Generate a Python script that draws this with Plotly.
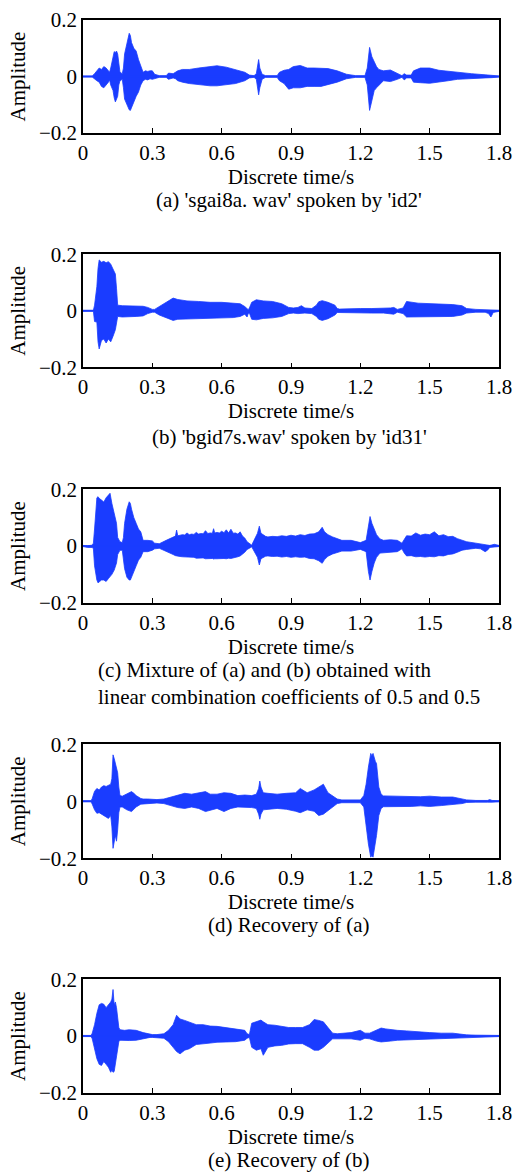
import plotly.graph_objects as go

# ---------------- data: waveform envelopes ----------------
# panel (a) 'sgai8a.wav'
t_a = [0.00, 0.04, 0.05, 0.06, 0.07, 0.08, 0.09, 0.10, 0.11, 0.115, 0.12, 0.13, 0.135, 0.14, 0.145,
       0.15, 0.155, 0.16, 0.17, 0.175, 0.18, 0.19, 0.195, 0.20, 0.205, 0.21, 0.22, 0.23, 0.24, 0.25,
       0.26, 0.27, 0.28, 0.29, 0.30, 0.31, 0.33, 0.36, 0.37, 0.39, 0.40, 0.41, 0.43, 0.46, 0.50,
       0.55, 0.58, 0.62, 0.66, 0.70, 0.72, 0.74, 0.75, 0.76, 0.765, 0.775, 0.79, 0.84, 0.85, 0.87,
       0.89, 0.91, 0.94, 0.97, 1.00, 1.03, 1.06, 1.10, 1.14, 1.18, 1.22, 1.23, 1.24, 1.25, 1.26,
       1.27, 1.28, 1.30, 1.33, 1.36, 1.38, 1.39, 1.40, 1.42, 1.43, 1.46, 1.50, 1.54, 1.58, 1.62,
       1.68, 1.74, 1.77, 1.78, 1.80]
up_a = [0.002, 0.002, 0.010, 0.020, 0.030, 0.025, 0.035, 0.030, 0.020, 0.015, 0.030, 0.070, 0.088, 0.085, 0.090,
        0.080, 0.040, 0.015, 0.010, 0.030, 0.080, 0.120, 0.140, 0.153, 0.145, 0.120, 0.100, 0.090, 0.060, 0.040,
        0.015, 0.020, 0.018, 0.020, 0.020, 0.008, 0.003, 0.003, 0.012, 0.010, 0.015, 0.020, 0.025, 0.025, 0.030,
        0.035, 0.038, 0.033, 0.025, 0.015, 0.005, 0.003, 0.010, 0.060, 0.030, 0.008, 0.003, 0.003, 0.015, 0.022,
        0.025, 0.035, 0.039, 0.030, 0.030, 0.030, 0.028, 0.020, 0.008, 0.003, 0.003, 0.030, 0.103, 0.070, 0.050,
        0.035, 0.025, 0.020, 0.023, 0.010, 0.003, 0.010, 0.005, 0.005, 0.020, 0.030, 0.030, 0.022, 0.018, 0.015,
        0.010, 0.006, 0.005, 0.002, 0.002]
lo_a = [-0.002, -0.002, -0.010, -0.015, -0.020, -0.035, -0.040, -0.030, -0.020, -0.012, -0.030, -0.050, -0.075, -0.090, -0.085,
        -0.070, -0.030, -0.015, -0.010, -0.040, -0.080, -0.100, -0.110, -0.118, -0.120, -0.110, -0.090, -0.070, -0.055, -0.030,
        -0.015, -0.010, -0.012, -0.008, -0.010, -0.006, -0.003, -0.003, -0.010, -0.005, -0.008, -0.015, -0.020, -0.025, -0.030,
        -0.033, -0.033, -0.030, -0.025, -0.015, -0.005, -0.003, -0.010, -0.065, -0.040, -0.010, -0.003, -0.003, -0.015, -0.025,
        -0.045, -0.040, -0.040, -0.035, -0.035, -0.035, -0.030, -0.020, -0.008, -0.003, -0.003, -0.030, -0.120, -0.080, -0.050,
        -0.040, -0.030, -0.015, -0.018, -0.010, -0.003, -0.012, -0.005, -0.005, -0.020, -0.022, -0.024, -0.020, -0.015, -0.010,
        -0.008, -0.005, -0.004, -0.002, -0.002]

# panel (b) 'bgid7s.wav'
t_b = [0.00, 0.045, 0.05, 0.06, 0.065, 0.07, 0.08, 0.09, 0.10, 0.11, 0.12, 0.13, 0.14, 0.145, 0.15,
       0.17, 0.20, 0.23, 0.26, 0.28, 0.30, 0.31, 0.33, 0.36, 0.39, 0.41, 0.45, 0.50, 0.55, 0.60,
       0.65, 0.68, 0.70, 0.71, 0.715, 0.72, 0.73, 0.75, 0.78, 0.82, 0.86, 0.89, 0.91, 0.93, 0.945,
       0.96, 0.99, 1.01, 1.02, 1.035, 1.06, 1.09, 1.10, 1.11, 1.15, 1.20, 1.25, 1.30, 1.33, 1.345,
       1.36, 1.385, 1.40, 1.45, 1.50, 1.55, 1.60, 1.64, 1.66, 1.70, 1.74, 1.755, 1.765, 1.775, 1.79, 1.80]
up_b = [0.002, 0.002, 0.020, 0.086, 0.150, 0.180, 0.172, 0.175, 0.170, 0.174, 0.165, 0.150, 0.130, 0.080, 0.020,
        0.018, 0.018, 0.016, 0.016, 0.012, 0.005, 0.005, 0.015, 0.030, 0.045, 0.040, 0.035, 0.033, 0.030, 0.030,
        0.028, 0.025, 0.015, 0.008, 0.004, 0.010, 0.030, 0.039, 0.035, 0.033, 0.025, 0.012, 0.010, 0.012, 0.018,
        0.010, 0.008, 0.020, 0.032, 0.036, 0.030, 0.020, 0.008, 0.006, 0.008, 0.008, 0.008, 0.008, 0.010, 0.012,
        0.005, 0.010, 0.033, 0.027, 0.025, 0.025, 0.022, 0.018, 0.008, 0.005, 0.004, 0.003, 0.002, 0.003, 0.004, 0.002]
lo_b = [-0.002, -0.002, -0.038, -0.040, -0.110, -0.135, -0.105, -0.100, -0.114, -0.100, -0.110, -0.090, -0.067, -0.040, -0.020,
        -0.022, -0.022, -0.020, -0.018, -0.010, -0.005, -0.005, -0.015, -0.025, -0.034, -0.030, -0.027, -0.026, -0.026, -0.025,
        -0.024, -0.020, -0.012, -0.022, -0.010, -0.008, -0.030, -0.032, -0.027, -0.025, -0.020, -0.010, -0.008, -0.010, -0.010,
        -0.008, -0.010, -0.020, -0.030, -0.034, -0.028, -0.015, -0.006, -0.006, -0.008, -0.008, -0.008, -0.008, -0.010, -0.012,
        -0.005, -0.010, -0.022, -0.022, -0.022, -0.020, -0.020, -0.015, -0.008, -0.005, -0.005, -0.010, -0.022, -0.006, -0.003, -0.002]

# panel (c) mixture
t_c = [0.00, 0.02, 0.04, 0.045, 0.05, 0.06, 0.065, 0.07, 0.08, 0.09, 0.10, 0.11, 0.117, 0.125, 0.135,
       0.145, 0.15, 0.16, 0.17, 0.175, 0.18, 0.19, 0.20, 0.205, 0.21, 0.22, 0.23, 0.24, 0.25, 0.26,
       0.28, 0.30, 0.31, 0.33, 0.36,
       0.39, 0.40, 0.405, 0.41, 0.42, 0.43, 0.44, 0.45, 0.46, 0.47, 0.48, 0.49, 0.50, 0.51, 0.52,
       0.53, 0.54, 0.55, 0.56, 0.565, 0.57, 0.58, 0.59, 0.60, 0.61, 0.62, 0.63, 0.64, 0.65, 0.66,
       0.67, 0.68, 0.69, 0.70, 0.71, 0.72,
       0.73, 0.74, 0.755, 0.763, 0.77,
       0.79, 0.80, 0.82, 0.84, 0.86, 0.88, 0.90, 0.92, 0.94, 0.96, 0.98, 1.00, 1.02, 1.035, 1.045,
       1.06, 1.08, 1.10, 1.12,
       1.16, 1.20, 1.225, 1.235, 1.242, 1.25, 1.26, 1.27, 1.285, 1.30, 1.33, 1.36, 1.38,
       1.39, 1.40, 1.42, 1.44, 1.46, 1.48, 1.50, 1.52, 1.54, 1.56, 1.58, 1.60, 1.62, 1.64, 1.66,
       1.70, 1.72, 1.74, 1.75, 1.76, 1.78, 1.80]
up_c = [0.002, 0.001, 0.003, 0.010, 0.060, 0.170, 0.174, 0.168, 0.162, 0.155, 0.170, 0.178, 0.186, 0.150, 0.120,
        0.080, 0.030, 0.015, 0.012, 0.030, 0.080, 0.130, 0.156, 0.150, 0.130, 0.100, 0.080, 0.060, 0.050, 0.020,
        0.020, 0.018, 0.010, 0.008, 0.020,
        0.030, 0.035, 0.056, 0.036, 0.038, 0.040, 0.039, 0.046, 0.040, 0.042, 0.041, 0.048, 0.042, 0.044, 0.043,
        0.054, 0.044, 0.046, 0.045, 0.061, 0.046, 0.048, 0.046, 0.052, 0.047, 0.057, 0.046, 0.059, 0.045, 0.046,
        0.042, 0.050, 0.035, 0.028, 0.015, 0.008,
        0.003, 0.020, 0.045, 0.070, 0.045,
        0.034, 0.032, 0.034, 0.033, 0.036, 0.034, 0.038, 0.035, 0.040, 0.037, 0.042, 0.043, 0.050, 0.066, 0.050,
        0.040, 0.032, 0.026, 0.020,
        0.020, 0.012, 0.020, 0.080, 0.104, 0.080, 0.060, 0.040, 0.025, 0.020, 0.022, 0.020, 0.010,
        0.025, 0.036, 0.035, 0.046, 0.038, 0.042, 0.040, 0.050, 0.036, 0.040, 0.033, 0.034, 0.026, 0.020, 0.015,
        0.010, 0.008, 0.006, 0.004, 0.002, 0.006, 0.002]
lo_c = [-0.002, -0.005, -0.005, -0.010, -0.070, -0.120, -0.130, -0.125, -0.120, -0.120, -0.125, -0.115, -0.110, -0.100, -0.085,
        -0.060, -0.030, -0.015, -0.015, -0.040, -0.080, -0.110, -0.120, -0.120, -0.110, -0.090, -0.070, -0.050, -0.040, -0.020,
        -0.020, -0.015, -0.010, -0.008, -0.020,
        -0.030, -0.034, -0.036, -0.036, -0.037, -0.038, -0.038, -0.040, -0.039, -0.040, -0.040, -0.043, -0.041, -0.042, -0.042,
        -0.045, -0.043, -0.044, -0.044, -0.046, -0.045, -0.045, -0.044, -0.045, -0.044, -0.045, -0.043, -0.044, -0.042, -0.040,
        -0.038, -0.035, -0.030, -0.022, -0.012, -0.008,
        -0.003, -0.020, -0.040, -0.067, -0.045,
        -0.036, -0.035, -0.037, -0.036, -0.039, -0.037, -0.040, -0.038, -0.040, -0.039, -0.044, -0.045, -0.052, -0.061, -0.048,
        -0.036, -0.028, -0.022, -0.018,
        -0.018, -0.012, -0.020, -0.090, -0.120, -0.090, -0.060, -0.040, -0.025, -0.022, -0.022, -0.020, -0.010,
        -0.025, -0.035, -0.034, -0.038, -0.037, -0.039, -0.037, -0.038, -0.034, -0.035, -0.030, -0.028, -0.022, -0.015, -0.012,
        -0.008, -0.010, -0.020, -0.015, -0.005, -0.004, -0.002]

# panel (d) recovery of (a)
t_d = [0.00, 0.035, 0.04, 0.05, 0.06, 0.07, 0.08, 0.09, 0.10, 0.11, 0.12, 0.125, 0.13, 0.135, 0.14,
       0.145, 0.15, 0.155, 0.16, 0.17, 0.19, 0.21, 0.22, 0.23, 0.25, 0.26, 0.28, 0.32, 0.35, 0.38,
       0.41, 0.44, 0.47, 0.50, 0.53, 0.55, 0.58, 0.61, 0.64, 0.67, 0.70, 0.73, 0.75, 0.76, 0.765,
       0.77, 0.78, 0.80, 0.84, 0.88, 0.92, 0.94, 0.97, 1.00, 1.02, 1.04, 1.06, 1.08, 1.10, 1.12,
       1.16, 1.20, 1.215, 1.225, 1.235, 1.245, 1.25, 1.255, 1.265, 1.27, 1.28, 1.29, 1.30, 1.34, 1.38,
       1.42, 1.46, 1.50, 1.55, 1.60, 1.64, 1.66, 1.70, 1.75, 1.76, 1.77, 1.80]
up_d = [0.002, 0.002, 0.010, 0.035, 0.045, 0.040, 0.050, 0.055, 0.052, 0.057, 0.060, 0.080, 0.163, 0.150, 0.130,
        0.120, 0.100, 0.050, 0.020, 0.018, 0.025, 0.034, 0.028, 0.020, 0.010, 0.008, 0.008, 0.006, 0.008, 0.015,
        0.022, 0.028, 0.025, 0.030, 0.034, 0.025, 0.025, 0.030, 0.028, 0.020, 0.022, 0.020, 0.025, 0.045, 0.071,
        0.050, 0.030, 0.028, 0.025, 0.028, 0.030, 0.045, 0.030, 0.040, 0.050, 0.060, 0.030, 0.020, 0.008, 0.005,
        0.005, 0.005, 0.020, 0.060, 0.120, 0.168, 0.160, 0.168, 0.140, 0.133, 0.050, 0.025, 0.019, 0.018, 0.019,
        0.018, 0.016, 0.018, 0.015, 0.015, 0.010, 0.005, 0.003, 0.003, 0.006, 0.003, 0.002]
lo_d = [-0.002, -0.002, -0.010, -0.030, -0.042, -0.040, -0.045, -0.050, -0.055, -0.060, -0.050, -0.090, -0.165, -0.150, -0.120,
        -0.140, -0.100, -0.040, -0.020, -0.020, -0.030, -0.036, -0.030, -0.020, -0.010, -0.008, -0.008, -0.006, -0.008, -0.015,
        -0.022, -0.025, -0.020, -0.025, -0.036, -0.030, -0.025, -0.036, -0.025, -0.020, -0.022, -0.022, -0.025, -0.045, -0.063,
        -0.045, -0.030, -0.028, -0.025, -0.028, -0.035, -0.040, -0.030, -0.035, -0.050, -0.045, -0.030, -0.020, -0.008, -0.005,
        -0.005, -0.005, -0.020, -0.080, -0.150, -0.196, -0.190, -0.196, -0.150, -0.120, -0.050, -0.025, -0.019, -0.018, -0.019,
        -0.018, -0.016, -0.018, -0.015, -0.012, -0.008, -0.004, -0.003, -0.003, -0.004, -0.003, -0.002]

# panel (e) recovery of (b)
t_e = [0.00, 0.035, 0.04, 0.05, 0.06, 0.07, 0.08, 0.09, 0.10, 0.11, 0.12, 0.125, 0.13, 0.135, 0.14,
       0.145, 0.15, 0.155, 0.16, 0.18, 0.20, 0.23, 0.26, 0.29, 0.30, 0.32, 0.35, 0.37, 0.39, 0.405,
       0.42, 0.44, 0.46, 0.49, 0.52, 0.55, 0.58, 0.62, 0.66, 0.70, 0.71, 0.72, 0.73, 0.75, 0.77,
       0.78, 0.80, 0.83, 0.86, 0.89, 0.92, 0.95, 0.98, 1.00, 1.02, 1.04, 1.06, 1.08, 1.10, 1.12,
       1.16, 1.20, 1.22, 1.24, 1.27, 1.29, 1.31, 1.33, 1.36, 1.40, 1.44, 1.46, 1.50, 1.55, 1.60,
       1.64, 1.66, 1.70, 1.76, 1.77, 1.80]
up_e = [0.002, 0.002, 0.010, 0.040, 0.080, 0.110, 0.115, 0.112, 0.100, 0.110, 0.120, 0.130, 0.164, 0.110, 0.120,
        0.100, 0.070, 0.030, 0.022, 0.020, 0.022, 0.020, 0.012, 0.005, 0.005, 0.005, 0.008, 0.020, 0.040, 0.073,
        0.060, 0.055, 0.050, 0.040, 0.040, 0.035, 0.034, 0.030, 0.025, 0.020, 0.008, 0.005, 0.045, 0.050, 0.056,
        0.050, 0.040, 0.038, 0.035, 0.030, 0.030, 0.030, 0.040, 0.058, 0.055, 0.050, 0.030, 0.010, 0.008, 0.010,
        0.012, 0.020, 0.010, 0.010, 0.020, 0.028, 0.025, 0.022, 0.020, 0.018, 0.015, 0.015, 0.012, 0.010, 0.010,
        0.006, 0.004, 0.003, 0.002, 0.004, 0.002]
lo_e = [-0.002, -0.002, -0.010, -0.040, -0.080, -0.100, -0.104, -0.090, -0.100, -0.110, -0.128, -0.120, -0.128, -0.125, -0.110,
        -0.080, -0.050, -0.020, -0.015, -0.015, -0.016, -0.015, -0.010, -0.005, -0.005, -0.005, -0.008, -0.020, -0.040, -0.055,
        -0.063, -0.050, -0.045, -0.030, -0.028, -0.025, -0.022, -0.020, -0.020, -0.015, -0.008, -0.005, -0.040, -0.050, -0.045,
        -0.068, -0.040, -0.035, -0.033, -0.028, -0.027, -0.027, -0.040, -0.050, -0.050, -0.040, -0.025, -0.010, -0.008, -0.010,
        -0.010, -0.015, -0.008, -0.010, -0.018, -0.021, -0.020, -0.018, -0.015, -0.015, -0.012, -0.012, -0.010, -0.010, -0.008,
        -0.005, -0.004, -0.003, -0.002, -0.003, -0.002]

x_ticks = [0, 0.3, 0.6, 0.9, 1.2, 1.5, 1.8]
x_ticktext = ["0", "0.3", "0.6", "0.9", "1.2", "1.5", "1.8"]
y_ticks = [-0.2, 0, 0.2]
y_ticktext = ["\u22120.2", "0", "0.2"]
x_title = "Discrete time/s"
y_title = "Amplitude"
captions = [
    "(a) 'sgai8a. wav' spoken by 'id2'",
    "(b) 'bgid7s.wav' spoken by 'id31'",
    "(c) Mixture of (a) and (b) obtained with<br>linear combination coefficients of 0.5 and 0.5",
    "(d) Recovery of (a)",
    "(e) Recovery of (b)",
]

# ---------------- layout geometry (pixels) ----------------
W, H = 514, 1172
X0, X1 = 83, 499
boxes = [(20, 133), (254.3, 367.3), (489.3, 602.7), (744.3, 858.3), (979.3, 1092.7)]
cap_y = [200, 437, 683.5, 925, 1160]

BLUE = "#1a3cff"
FONT = "Liberation Serif"

fig = go.Figure()
series = [(t_a, up_a, lo_a), (t_b, up_b, lo_b), (t_c, up_c, lo_c), (t_d, up_d, lo_d), (t_e, up_e, lo_e)]

layout = dict(
    width=W, height=H, margin=dict(l=0, r=0, t=0, b=0, autoexpand=False),
    paper_bgcolor="white", plot_bgcolor="white", showlegend=False,
    font=dict(family=FONT, size=21, color="black"),
)
annotations = []
for i, ((t, up, lo), (top, bot)) in enumerate(zip(series, boxes)):
    assert len(t) == len(up) == len(lo), i
    k = "" if i == 0 else str(i + 1)
    xs = list(t) + list(t[::-1])
    ys = list(up) + list(lo[::-1])
    fig.add_trace(go.Scatter(x=xs, y=ys, fill="toself", fillcolor=BLUE, mode="lines",
                             line=dict(color=BLUE, width=0.8), xaxis="x" + k, yaxis="y" + k,
                             hoverinfo="skip"))
    fig.add_trace(go.Scatter(x=[t[0], t[-1]], y=[0, 0], mode="lines",
                             line=dict(color=BLUE, width=1.5), xaxis="x" + k, yaxis="y" + k,
                             hoverinfo="skip"))
    layout["xaxis" + k] = dict(
        domain=[X0 / W, X1 / W], anchor="y" + k, range=[0, 1.8], automargin=False,
        tickvals=x_ticks, ticktext=x_ticktext, ticks="inside", ticklen=5, tickwidth=1,
        tickcolor="black", showline=True, linecolor="black", linewidth=1.5, mirror=True,
        showgrid=False, zeroline=False, tickfont=dict(size=21, family=FONT),
        title=dict(text=x_title, standoff=0, font=dict(size=21, family=FONT)),
    )
    layout["yaxis" + k] = dict(
        domain=[1 - bot / H, 1 - top / H], anchor="x" + k, range=[-0.2, 0.2], automargin=False,
        tickvals=y_ticks, ticktext=y_ticktext, ticks="", showline=True, linecolor="black",
        linewidth=1.5, mirror=True, showgrid=False, zeroline=False,
        tickfont=dict(size=21, family=FONT),
        title=dict(text=y_title, standoff=8, font=dict(size=21, family=FONT)),
    )
    if i == 2:
        annotations.append(dict(text=captions[i], xref="paper", yref="paper", x=96 / W,
                                y=1 - cap_y[i] / H, xanchor="left", yanchor="middle",
                                align="left", showarrow=False, font=dict(size=21, family=FONT)))
    else:
        annotations.append(dict(text=captions[i], xref="paper", yref="paper", x=289 / W,
                                y=1 - cap_y[i] / H, xanchor="center", yanchor="middle",
                                showarrow=False, font=dict(size=21, family=FONT)))
layout["annotations"] = annotations
fig.update_layout(**layout)
fig.write_html("out.html", config={"displayModeBar": False},
               post_script="document.body.style.margin='0';")
